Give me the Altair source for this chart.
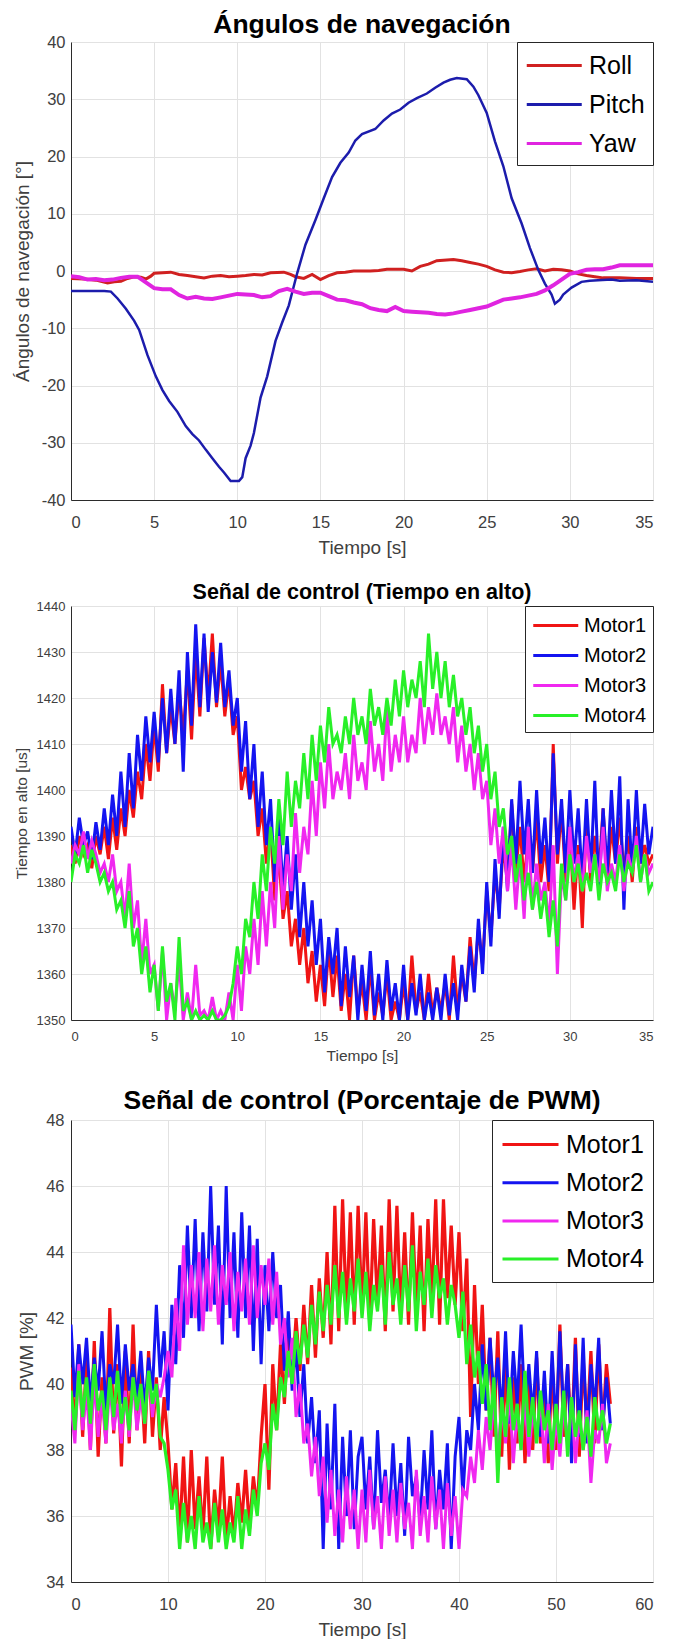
import altair as alt
import pandas as pd

FONT = "Liberation Sans"
TXT = "#404040"
GRID = "#e2e2e2"
DOM = "#2b2b2b"
W = 582

# ---------------- Panel 1: navigation angles (time, value) ----------------
ROLL = [(0, -1.3), (0.8, -1.4), (1.5, -1.6), (2.2, -2.1), (2.6, -1.9), (3.0, -1.8), (3.4, -1.3),
        (3.8, -1.0), (4.2, -1.1), (4.5, -1.4), (4.8, -0.9), (5.0, -0.4), (5.5, -0.3), (6.0, -0.2),
        (6.5, -0.6), (7.0, -0.8), (7.5, -1.0), (8.0, -1.2), (8.5, -0.9), (9.0, -0.8), (9.5, -1.0),
        (10.0, -0.9), (10.5, -0.8), (11.0, -0.6), (11.5, -0.7), (12.0, -0.3), (12.8, -0.2), (13.2, -0.6),
        (13.5, -1.0), (14.0, -1.3), (14.5, -0.6), (15.0, -1.5), (15.5, -0.8), (16.0, -0.3), (16.5, -0.2),
        (17.0, 0.0), (18.0, 0.0), (18.5, 0.1), (19.0, 0.3), (20.0, 0.3), (20.5, 0.0), (21.0, 0.8),
        (21.5, 1.2), (22.0, 1.8), (23.0, 2.0), (23.5, 1.8), (24.0, 1.5), (24.5, 1.2), (25.0, 0.8),
        (25.5, 0.2), (26.0, -0.2), (26.5, -0.3), (27.0, -0.1), (27.5, 0.2), (28.0, 0.4), (28.5, 0.0),
        (29.0, 0.3), (29.5, 0.2), (30.0, 0.0), (30.5, -0.5), (31.0, -0.8), (31.5, -1.0), (32.0, -1.2),
        (33.0, -1.2), (34.0, -1.3), (35.0, -1.3)]
PITCH = [(0, -3.5), (1, -3.5), (2, -3.5), (2.4, -3.6), (2.8, -4.8), (3.3, -6.6), (3.8, -8.7),
         (4.1, -10.3), (4.6, -14.7), (5.1, -18.4), (5.5, -20.8), (5.9, -22.7), (6.4, -24.6),
         (6.9, -27.1), (7.3, -28.5), (7.7, -29.6), (8.1, -31.2), (8.5, -32.7), (8.9, -34.2),
         (9.2, -35.2), (9.6, -36.7), (10.1, -36.7), (10.3, -36.0), (10.5, -32.7), (10.8, -30.5),
         (11.0, -28.3), (11.4, -22.1), (11.8, -18.4), (12.3, -12.2), (12.7, -9.0), (13.1, -6.0),
         (13.6, -0.4), (14.1, 4.6), (14.7, 8.9), (15.2, 12.7), (15.7, 16.4), (16.2, 18.9),
         (16.7, 20.7), (17.1, 22.8), (17.5, 23.9), (18.3, 24.8), (18.8, 26.3), (19.3, 27.5),
         (19.8, 28.2), (20.3, 29.4), (20.8, 30.2), (21.4, 31.0), (21.9, 32.0), (22.4, 32.9),
         (22.8, 33.4), (23.2, 33.7), (23.8, 33.5), (24.2, 32.2), (24.5, 30.7), (25.0, 27.6),
         (25.5, 22.6), (26.0, 18.3), (26.5, 12.7), (27.1, 8.3), (27.6, 4.0), (28.1, 0.2),
         (28.5, -2.2), (28.9, -4.1), (29.1, -5.7), (29.4, -5.0), (29.6, -4.1), (30.1, -2.9),
         (30.7, -1.9), (31.2, -1.7), (31.7, -1.6), (32.5, -1.5), (33.0, -1.7), (34.0, -1.6), (35.0, -1.9)]
YAW = [(0, -0.9), (0.5, -1.1), (1, -1.5), (1.5, -1.4), (2, -1.6), (2.5, -1.5), (3, -1.2), (3.5, -1.0),
       (4, -1.0), (4.5, -2.0), (5, -3.0), (5.5, -3.2), (6, -3.2), (6.5, -4.2), (7, -4.8), (7.5, -4.5),
       (8, -4.8), (8.5, -4.9), (9, -4.6), (9.5, -4.3), (10, -4.0), (10.5, -4.1), (11, -4.2),
       (11.5, -4.6), (12, -4.4), (12.5, -3.5), (13, -3.1), (13.5, -3.6), (14, -4.0), (14.5, -3.8),
       (15, -3.8), (15.5, -4.4), (16, -5.0), (16.5, -5.1), (17, -5.5), (17.5, -5.8), (18, -6.5),
       (18.5, -6.8), (19, -7.0), (19.5, -6.3), (20, -7.0), (20.5, -7.1), (21, -7.2), (21.5, -7.3),
       (22, -7.5), (22.5, -7.6), (23, -7.4), (23.5, -7.1), (24, -6.8), (24.5, -6.5), (25, -6.2),
       (25.5, -5.6), (26, -5.0), (26.5, -4.8), (27, -4.6), (27.5, -4.3), (28, -4.0), (28.5, -3.4),
       (29, -2.5), (29.5, -1.5), (30, -0.5), (30.5, -0.2), (31, 0.2), (31.5, 0.3), (32, 0.3),
       (32.5, 0.6), (33, 1.0), (34, 1.0), (35, 1.0)]

# ---------------- Panel 2: high time [us], sampled every 0.25 s ----------------
P2_STEP = 0.25
P2_M1 = [1388, 1384, 1390, 1386, 1388, 1383, 1390, 1386, 1392, 1385, 1394, 1387, 1396, 1390, 1400, 1394, 1404, 1398, 1410, 1402,
         1414, 1404, 1423, 1408, 1418, 1410, 1422, 1412, 1426, 1411, 1430, 1416, 1433, 1420, 1434, 1418, 1428, 1416, 1424, 1412,
         1416, 1400, 1405, 1398, 1402, 1390, 1396, 1384, 1392, 1376, 1386, 1372, 1378, 1366, 1372, 1362, 1370, 1358, 1365, 1354,
         1362, 1353, 1366, 1355, 1364, 1352, 1360, 1350, 1364, 1352, 1358, 1350, 1362, 1350, 1356, 1351, 1360, 1350, 1354, 1350,
         1358, 1350, 1364, 1352, 1356, 1350, 1360, 1351, 1357, 1352, 1358, 1350, 1364, 1352, 1360, 1354, 1368, 1358, 1370, 1362,
         1378, 1368, 1382, 1374, 1388, 1380, 1397, 1382, 1392, 1380, 1390, 1382, 1394, 1380, 1388, 1378, 1410, 1384, 1396, 1380,
         1392, 1374, 1388, 1370, 1394, 1380, 1390, 1382, 1396, 1380, 1392, 1384, 1394, 1382, 1390, 1380, 1392, 1384, 1388, 1384,
         1386]
P2_M2 = [1392, 1386, 1394, 1388, 1391, 1385, 1393, 1387, 1396, 1388, 1399, 1390, 1404, 1392, 1408, 1396, 1412, 1402, 1416, 1406,
         1417, 1406, 1420, 1408, 1422, 1410, 1426, 1404, 1430, 1414, 1436, 1418, 1434, 1417, 1430, 1419, 1432, 1418, 1426, 1414,
         1420, 1404, 1415, 1398, 1410, 1392, 1404, 1388, 1398, 1380, 1394, 1378, 1390, 1374, 1386, 1368, 1380, 1366, 1376, 1362,
         1372, 1356, 1368, 1360, 1370, 1353, 1366, 1355, 1364, 1350, 1362, 1352, 1365, 1351, 1360, 1350, 1363, 1352, 1358, 1350,
         1362, 1350, 1358, 1351, 1360, 1350, 1356, 1350, 1357, 1350, 1360, 1351, 1358, 1350, 1362, 1354, 1366, 1356, 1372, 1360,
         1380, 1366, 1385, 1372, 1392, 1378, 1398, 1384, 1402, 1386, 1398, 1382, 1400, 1384, 1394, 1380, 1408, 1386, 1398, 1382,
         1400, 1384, 1396, 1380, 1398, 1382, 1402, 1378, 1396, 1382, 1400, 1384, 1403, 1374, 1398, 1382, 1400, 1384, 1397, 1386,
         1392]
P2_M3 = [1384, 1388, 1386, 1391, 1385, 1389, 1386, 1382, 1384, 1380, 1386, 1378, 1380, 1372, 1384, 1370, 1376, 1362, 1372, 1360,
         1362, 1352, 1365, 1350, 1358, 1352, 1363, 1350, 1356, 1350, 1362, 1351, 1352, 1350, 1355, 1350, 1352, 1350, 1356, 1350,
         1362, 1352, 1366, 1360, 1372, 1362, 1378, 1366, 1380, 1370, 1390, 1374, 1386, 1378, 1395, 1382, 1392, 1386, 1402, 1390,
         1406, 1396, 1410, 1398, 1404, 1400, 1408, 1398, 1412, 1402, 1406, 1400, 1415, 1404, 1410, 1402, 1418, 1404, 1412, 1406,
         1416, 1406, 1412, 1408, 1420, 1410, 1418, 1412, 1421, 1412, 1416, 1410, 1418, 1406, 1414, 1404, 1410, 1400, 1408, 1398,
         1402, 1388, 1396, 1384, 1392, 1378, 1388, 1374, 1386, 1372, 1392, 1374, 1384, 1376, 1380, 1370, 1388, 1360, 1382, 1376,
         1392, 1380, 1386, 1378, 1390, 1382, 1386, 1380, 1392, 1378, 1384, 1380, 1388, 1378, 1386, 1382, 1390, 1380, 1386, 1382,
         1384]
P2_M4 = [1380, 1386, 1384, 1388, 1382, 1387, 1384, 1380, 1382, 1378, 1380, 1374, 1376, 1370, 1378, 1366, 1370, 1360, 1366, 1356,
         1362, 1352, 1366, 1354, 1358, 1350, 1368, 1352, 1354, 1350, 1352, 1350, 1351, 1350, 1352, 1350, 1350, 1351, 1353, 1358,
         1366, 1360, 1372, 1368, 1380, 1372, 1386, 1378, 1392, 1384, 1398, 1388, 1404, 1392, 1402, 1396, 1408, 1398, 1412, 1402,
         1414, 1406, 1418, 1410, 1412, 1408, 1416, 1410, 1420, 1412, 1416, 1410, 1422, 1414, 1418, 1412, 1420, 1414, 1424, 1416,
         1426, 1418, 1424, 1420, 1428, 1418, 1434, 1422, 1430, 1420, 1428, 1418, 1425, 1416, 1420, 1412, 1418, 1408, 1414, 1404,
         1410, 1398, 1404, 1392, 1396, 1386, 1390, 1380, 1386, 1376, 1382, 1374, 1380, 1372, 1378, 1368, 1376, 1366, 1384, 1376,
         1386, 1380, 1384, 1378, 1382, 1378, 1386, 1376, 1384, 1380, 1382, 1378, 1386, 1380, 1384, 1382, 1388, 1380, 1386, 1378,
         1380]

# ---------------- Panel 3: PWM [%], sampled every 0.4 s ----------------
P3_STEP = 0.4
P3_M1 = [40.5, 38.6, 41.2, 38.4, 40.8, 38.0, 41.3, 37.8, 40.2, 38.2, 42.3, 38.5, 40.6, 37.5, 41.0, 38.2, 41.8, 38.6, 40.4, 38.2, 41.0, 38.4, 40.2, 38.0, 39.6,
         38.2, 36.2, 37.6, 35.4, 37.8, 35.2, 38.0, 35.6, 37.2, 35.4, 37.8, 35.0, 36.8, 35.6, 37.8, 35.2, 36.6, 35.4, 37.0, 35.8, 37.4, 35.6, 37.2, 36.2, 38.4,
         40.0, 36.8, 40.6, 38.6, 41.2, 39.4, 41.8, 40.2, 42.0, 40.4, 42.4, 40.6, 43.0, 40.8, 43.2, 41.4, 44.0, 41.2, 45.4, 41.6, 45.6, 42.0, 45.2, 41.8, 45.4,
         42.2, 45.2, 41.8, 45.0, 42.4, 44.8, 41.6, 45.6, 42.2, 45.4, 42.0, 44.6, 41.8, 45.2, 42.2, 44.8, 41.6, 45.0, 42.4, 45.6, 41.8, 45.6, 42.6, 44.8, 42.4,
         44.6, 41.6, 43.8, 39.0, 43.0, 40.0, 42.4, 39.2, 41.4, 38.4, 41.6, 37.8, 40.8, 37.4, 40.2, 38.2, 40.6, 37.6, 40.0, 38.0, 40.8, 38.2, 39.8, 37.6, 40.6,
         38.0, 41.8, 38.4, 40.6, 38.2, 41.4, 37.8, 40.8, 38.6, 41.0, 38.2, 41.2, 38.6, 40.6, 39.4]
P3_M2 = [41.8, 39.6, 41.2, 40.0, 41.4, 39.4, 40.8, 39.8, 41.6, 39.2, 40.6, 40.0, 41.8, 39.4, 41.2, 39.8, 40.6, 39.6, 41.0, 39.2, 40.8, 39.8, 42.4, 40.2, 41.6,
         39.2, 42.4, 40.6, 43.6, 41.4, 44.8, 42.0, 45.0, 41.6, 44.6, 42.2, 46.0, 42.4, 44.8, 41.2, 46.0, 42.0, 44.6, 41.4, 45.2, 42.0, 44.8, 41.0, 44.4, 40.6,
         43.6, 41.6, 44.0, 42.0, 43.0, 40.4, 42.2, 39.8, 41.2, 39.0, 40.6, 38.2, 39.6, 37.6, 39.2, 35.0, 38.8, 36.2, 39.4, 35.0, 38.4, 36.0, 38.6, 35.6, 37.8,
         38.4, 36.2, 37.8, 35.6, 38.6, 36.4, 37.4, 35.8, 38.2, 36.0, 37.6, 35.4, 38.4, 36.6, 37.2, 35.8, 38.0, 36.2, 38.6, 35.6, 37.4, 36.2, 38.2, 35.0, 37.8,
         39.0, 36.6, 38.6, 38.0, 40.0, 38.6, 41.2, 39.2, 41.4, 39.6, 40.8, 39.0, 41.6, 38.8, 41.0, 39.4, 41.8, 39.2, 40.6, 39.0, 41.0, 38.4, 40.4, 38.2, 41.0,
         38.6, 41.6, 39.0, 40.6, 37.6, 41.2, 38.4, 41.4, 38.2, 40.6, 39.2, 41.4, 38.6, 40.2, 38.8]
P3_M3 = [39.4, 38.2, 40.6, 38.6, 39.8, 38.0, 40.2, 38.4, 39.6, 38.2, 40.0, 38.6, 39.4, 38.2, 39.8, 38.4, 40.2, 38.6, 39.6, 38.8, 40.4, 39.0, 40.0, 39.6, 40.2,
         41.0, 40.2, 42.6, 41.0, 44.2, 41.8, 43.6, 42.0, 44.0, 41.6, 43.8, 42.2, 44.2, 41.8, 43.6, 42.4, 44.0, 41.6, 43.4, 42.2, 43.8, 41.8, 44.2, 42.0, 43.6,
         42.4, 43.8, 41.8, 43.4, 41.2, 42.0, 40.2, 41.4, 39.0, 40.0, 38.2, 38.8, 37.2, 38.4, 36.6, 37.8, 35.8, 37.4, 35.4, 36.8, 35.2, 37.2, 35.6, 36.8, 35.0,
         36.8, 35.2, 37.4, 35.6, 36.6, 35.0, 37.2, 35.4, 36.8, 35.2, 37.0, 35.6, 36.4, 35.0, 37.4, 35.4, 36.6, 35.2, 37.2, 35.6, 36.8, 35.0, 37.0, 35.4, 36.6,
         35.0, 36.8, 36.6, 37.8, 37.0, 38.6, 37.4, 39.0, 38.0, 39.6, 37.8, 39.4, 38.2, 39.8, 37.6, 39.2, 38.0, 39.6, 37.8, 39.2, 38.4, 39.6, 37.6, 39.4, 37.4,
         39.0, 37.8, 39.4, 38.2, 39.6, 37.6, 39.0, 38.0, 39.2, 37.0, 38.6, 38.2, 39.4, 37.6, 38.2]
P3_M4 = [39.8, 38.6, 40.4, 39.0, 40.2, 38.8, 40.6, 39.2, 39.8, 38.6, 40.2, 39.0, 40.4, 38.8, 39.6, 38.6, 40.2, 39.2, 40.0, 38.8, 40.4, 39.4, 40.0, 38.4, 38.2,
         37.4, 36.2, 36.8, 35.0, 36.4, 35.2, 36.0, 35.0, 36.6, 35.2, 35.8, 35.0, 36.4, 35.2, 36.2, 35.0, 35.8, 35.2, 36.6, 35.0, 36.2, 35.4, 36.8, 36.0, 37.6,
         38.2, 37.4, 39.4, 38.6, 40.2, 39.6, 41.0, 40.0, 41.6, 40.6, 41.8, 40.8, 42.4, 41.2, 42.8, 41.6, 43.0, 41.8, 43.6, 42.0, 43.4, 41.8, 43.2, 42.2, 43.8,
         42.0, 43.4, 41.6, 43.0, 42.2, 43.6, 41.8, 44.0, 42.4, 43.2, 41.8, 43.6, 42.2, 44.2, 41.6, 43.4, 42.4, 43.8, 42.0, 43.6, 42.6, 43.2, 41.8, 43.0, 42.4,
         41.4, 42.8, 40.6, 41.8, 40.2, 41.0, 39.4, 40.6, 38.6, 40.2, 37.0, 39.6, 38.4, 40.2, 38.6, 39.4, 38.0, 40.4, 38.4, 39.6, 38.2, 39.8, 38.6, 39.2, 38.0,
         39.4, 38.2, 39.8, 37.8, 39.6, 38.4, 39.2, 38.0, 39.0, 37.8, 39.6, 38.6, 39.2, 38.2, 38.8]

MOTORS = ["Motor1", "Motor2", "Motor3", "Motor4"]
# legend key: a horizontal line starting at the left edge of the nominal symbol box (2x its width)
LEGEND_LINE = "M-1,0H3"


def df_pairs(names, seqs):
    rows = []
    for n, pts in zip(names, seqs):
        for t, v in pts:
            rows.append({"t": t, "v": v, "s": n})
    return pd.DataFrame(rows)


def df_step(names, seqs, step):
    rows = []
    for n, vals in zip(names, seqs):
        for i, v in enumerate(vals):
            rows.append({"t": round(i * step, 3), "v": v, "s": n})
    return pd.DataFrame(rows)


def panel(df, names, colors, line_w, title, tsize, toff, ytitle,
          xdom, xvals, ydom, yvals, height, tick_fs, axt_fs,
          x_lpad, x_tpad, y_lpad, y_tpad, leg_fs, leg_len, leg_pad, leg_rowgap, leg_gap):
    s = leg_len / 2.0
    cscale = alt.Scale(domain=names, range=colors)
    legend = alt.Legend(
        title=None, orient="top-right", offset=0,
        fillColor="white", strokeColor="#262626", padding=leg_pad,
        labelFont=FONT, labelFontSize=leg_fs, labelColor="black",
        labelOffset=s + leg_gap,
        symbolType=LEGEND_LINE, symbolSize=s * s, symbolStrokeWidth=3,
        rowPadding=leg_rowgap - max(s, leg_fs),
    )
    xaxis = alt.Axis(values=xvals, grid=True, gridColor=GRID, domainColor=DOM, ticks=False,
                     labelFont=FONT, labelFontSize=tick_fs, labelColor=TXT, labelPadding=x_lpad,
                     title="Tiempo [s]", titleFont=FONT, titleFontSize=axt_fs, titleFontWeight="normal",
                     titleColor=TXT, titlePadding=x_tpad, labelExpr="datum.value + ''")
    yaxis = alt.Axis(values=yvals, grid=True, gridColor=GRID, domainColor=DOM, ticks=False,
                     labelFont=FONT, labelFontSize=tick_fs, labelColor=TXT, labelPadding=y_lpad,
                     title=ytitle, titleFont=FONT, titleFontSize=axt_fs, titleFontWeight="normal",
                     titleColor=TXT, titlePadding=y_tpad, labelExpr="datum.value + ''")
    layers = []
    for n, w in zip(names, line_w):
        layers.append(
            alt.Chart(df).transform_filter(alt.datum.s == n)
            .mark_line(strokeWidth=w, clip=True)
            .encode(
                x=alt.X("t:Q", scale=alt.Scale(domain=xdom, nice=False, zero=False), axis=xaxis),
                y=alt.Y("v:Q", scale=alt.Scale(domain=ydom, nice=False, zero=False), axis=yaxis),
                color=alt.Color("s:N", scale=cscale, legend=legend),
            )
        )
    return alt.layer(*layers).properties(
        width=W, height=height,
        title=alt.TitleParams(title, font=FONT, fontSize=tsize, fontWeight="bold",
                              color="black", offset=toff, anchor="middle"),
    )


p1 = panel(df_pairs(["Roll", "Pitch", "Yaw"], [ROLL, PITCH, YAW]),
           ["Roll", "Pitch", "Yaw"], ["#d02020", "#1c1cac", "#e024e0"], [3, 2.5, 4],
           "Ángulos de navegación", 26.5, -4.5, "Ángulos de navegación [°]",
           [0, 35], list(range(0, 36, 5)), [-40, 40], list(range(-40, 41, 10)), 458, 16.5, 19,
           14, 8.4, 6, 9, 25, 55, 8, 37.5, 5.5)

p2 = panel(df_step(MOTORS, [P2_M1, P2_M2, P2_M3, P2_M4], P2_STEP),
           MOTORS, ["#f01414", "#1414f0", "#f028f0", "#28f028"], [3, 3, 3, 3],
           "Señal de control (Tiempo en alto)", 21.5, -3.4, "Tiempo en alto [us]",
           [0, 35], list(range(0, 36, 5)), [1350, 1440], list(range(1350, 1441, 10)), 414, 13, 15.5,
           10.3, 5.6, 6, 6.5, 20, 45, 6.5, 29.5, 4)

p3 = panel(df_step(MOTORS, [P3_M1, P3_M2, P3_M3, P3_M4], P3_STEP),
           MOTORS, ["#f01414", "#1414f0", "#f028f0", "#28f028"], [3.2, 3, 3, 3.2],
           "Señal de control (Porcentaje de PWM)", 26.5, -2.5, "PWM [%]",
           [0, 60], list(range(0, 61, 10)), [34, 48], list(range(34, 49, 2)), 462, 16.5, 19,
           14.5, 7, 7, 9.2, 25, 56, 9, 37.2, 6)

chart = (
    alt.vconcat(p1, p2, p3, spacing=23)
    .resolve_scale(color="independent")
    .properties(padding={"left": 5, "top": 4, "right": 5, "bottom": 0}, background="white")
    .configure_view(stroke=None)
)

chart.save("out.html", embed_options={"renderer": "svg", "actions": False})
